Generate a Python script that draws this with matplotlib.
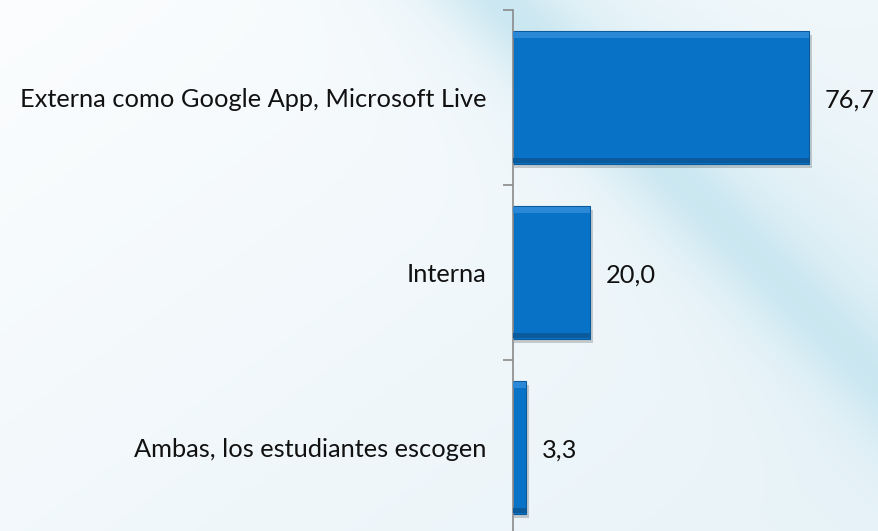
import numpy as np
import matplotlib

matplotlib.use("Agg")
import matplotlib.pyplot as plt

categories = ["Externa como Google App, Microsoft Live", "Interna", "Ambas, los estudiantes escogen"]
values = [76.7, 20.0, 3.3]
value_labels = ["76,7", "20,0", "3,3"]

W, H, DPI = 879, 531, 100
BAR = "#0873c6"
BAR_DARK = "#0a5a9c"
BAR_LIGHT = "#2a88d6"
AXIS = "#8a8a8a"
FONT = "Lato"
FS = 18.3

fig = plt.figure(figsize=(W / DPI, H / DPI), dpi=DPI)

# background: pale blue wash with a soft diagonal cyan streak
bg = fig.add_axes([0, 0, 1, 1])
yy, xx = np.mgrid[0:H, 0:W].astype(float)
base = np.array([0.985, 0.992, 0.996])
tint = np.array([0.915, 0.955, 0.975])
t = np.clip((xx / W) * 0.6 + (yy / H) * 0.5, 0, 1)[..., None]
img = base * (1 - t) + tint * t
d = (xx - 500 - yy * 1.0) / np.sqrt(2)
streak = np.exp(-(d / 42) ** 2)[..., None] * 0.85
wide = np.exp(-((d - 30) / 110) ** 2)[..., None] * 0.35
cyan = np.array([0.78, 0.9, 0.94])
img = img * (1 - streak - wide * (1 - streak)) + cyan * (streak + wide * (1 - streak))
bg.imshow(img, aspect="auto", extent=[0, W, H, 0])
bg.axis("off")

ax = fig.add_axes([513 / W, -4 / H, 366 / W, 525 / H])
ax.patch.set_alpha(0)
y = np.arange(len(categories))

# drop shadow, bar body, bevel strips
ax.barh(y + 0.025, [v + 0.5 for v in values], height=0.76, left=0.3,
        color="#000000", alpha=0.18, zorder=1)
ax.barh(y, values, height=0.76, color=BAR, edgecolor=BAR_DARK, linewidth=0.8, zorder=2)
ax.barh(y - 0.355, values, height=0.035, color=BAR_LIGHT, linewidth=0, zorder=3)
ax.barh(y + 0.36, values, height=0.03, color=BAR_DARK, linewidth=0, zorder=3)

for yi, v, lab in zip(y, values, value_labels):
    ax.annotate(lab, (v, yi), xytext=(11.5, -1.5), textcoords="offset points",
                va="center", ha="left", fontsize=FS, family=FONT, color="#111111")

ax.set_xlim(0, 94.8)
ax.set_ylim(2.5, -0.5)
ax.set_yticks(y)
ax.set_yticklabels(categories, fontsize=FS, family=FONT, color="#111111")
ax.set_yticks([-0.5, 0.5, 1.5, 2.5], minor=True)
ax.tick_params(axis="y", which="major", length=0, pad=19)
ax.tick_params(axis="y", which="minor", length=7, width=1.2, color=AXIS)
ax.set_xticks([])
for side in ("top", "right", "bottom"):
    ax.spines[side].set_visible(False)
ax.spines["left"].set_color(AXIS)
ax.spines["left"].set_linewidth(1.2)

fig.savefig("out.png", dpi=DPI)
